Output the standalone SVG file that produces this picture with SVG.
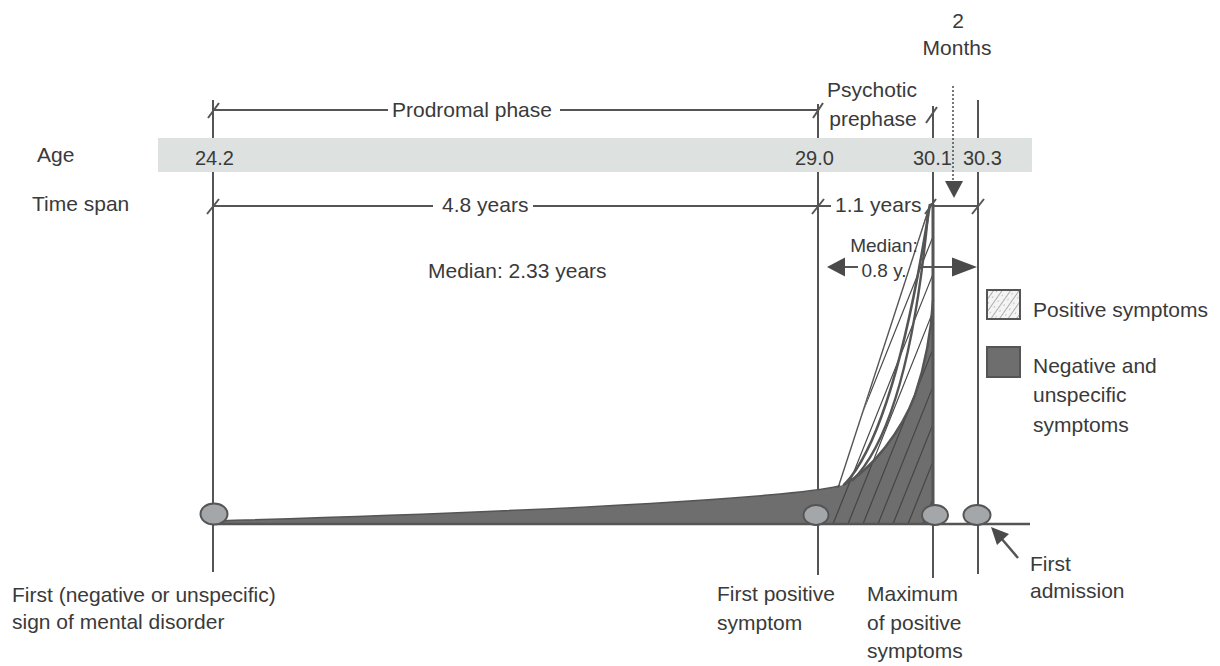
<svg xmlns="http://www.w3.org/2000/svg" width="1220" height="666" viewBox="0 0 1220 666">
<defs>
<style>
text{font-family:"Liberation Sans",Arial,sans-serif;font-size:21px;fill:#3a3a3a}
.num{font-size:20px}
.sm{font-size:19px}
.ln{stroke:#555;stroke-width:2;fill:none}
.tick{stroke:#555;stroke-width:2;fill:none}
.hat{stroke:#444;stroke-width:1.2;fill:none}
.ell{fill:#a4a7aa;stroke:#555;stroke-width:2}
</style>
<pattern id="legHatch" patternUnits="userSpaceOnUse" width="7" height="7" patternTransform="rotate(35)">
<rect width="7" height="7" fill="#f4f4f4"/>
<line x1="0" y1="0" x2="0" y2="7" stroke="#666" stroke-width="1"/>
<circle cx="3.5" cy="3" r="0.5" fill="#777"/>
</pattern>
<clipPath id="hatchClip">
<path d="M826,524 L840,486 L930,203 L934,203 L934,524 Z"/>
</clipPath>
</defs>
<rect width="1220" height="666" fill="#fff"/>

<g id="timeline-verticals">
<line class="ln" x1="213" y1="100" x2="213" y2="572"/>
<line class="ln" x1="818" y1="104" x2="818" y2="575"/>
<line class="ln" x1="933" y1="106" x2="933" y2="578"/>
<line class="ln" x1="978" y1="100" x2="978" y2="574"/>
</g>

<g id="age-band">
<rect x="158" y="138" width="874" height="34" fill="#dde1e0"/>
<text x="37" y="162">Age</text>
<text class="num" x="195" y="165">24.2</text>
<text class="num" x="795" y="165">29.0</text>
<text class="num" x="913" y="165">30.1</text>
<text class="num" x="963" y="165">30.3</text>
</g>

<g id="symptom-curves">
<path d="M214,524 L214,521 Q600,510 780,494 C812,491 830,489 843,485 C872,470 902,430 915,395 C925,365 931,335 933,300 L933,524 Z" fill="#6e6e6e" stroke="#555" stroke-width="1.5"/>
<path d="M840,486 L930,204 L933,204 L933,300 C931,335 925,365 915,395 C902,430 872,470 843,485 Z" fill="#fff"/>
<g clip-path="url(#hatchClip)">
<line class="hat" x1="773" y1="524" x2="903" y2="199"/>
<line class="hat" x1="788" y1="524" x2="918" y2="199"/>
<line class="hat" x1="803" y1="524" x2="933" y2="199"/>
<line class="hat" x1="818" y1="524" x2="948" y2="199"/>
<line class="hat" x1="833" y1="524" x2="963" y2="199"/>
<line class="hat" x1="848" y1="524" x2="978" y2="199"/>
<line class="hat" x1="863" y1="524" x2="993" y2="199"/>
<line class="hat" x1="878" y1="524" x2="1008" y2="199"/>
<line class="hat" x1="893" y1="524" x2="1023" y2="199"/>
<line class="hat" x1="908" y1="524" x2="1038" y2="199"/>
<line class="hat" x1="923" y1="524" x2="1053" y2="199"/>
</g>
<line x1="838" y1="488" x2="930" y2="205" stroke="#555" stroke-width="1.4"/>
<path d="M845,484 Q895,430 930,204" fill="none" stroke="#555" stroke-width="2.6"/>
<path d="M852,481 Q908,425 928,215" fill="none" stroke="#555" stroke-width="2.4"/>
<path d="M843,485 C872,470 902,430 915,395 C925,365 931,335 933,300" fill="none" stroke="#555" stroke-width="2.4"/>
<line x1="933" y1="204" x2="933" y2="524" stroke="#555" stroke-width="3"/>
</g>

<g id="connectors">
<line class="ln" x1="213" y1="110" x2="388" y2="110"/>
<line class="ln" x1="560" y1="110" x2="818" y2="110"/>
<line class="tick" x1="208" y1="118" x2="219" y2="103"/>
<line class="tick" x1="813" y1="118" x2="823" y2="103"/>
<line class="tick" x1="926" y1="123" x2="937" y2="107"/>
<line class="ln" x1="213" y1="206" x2="433" y2="206"/>
<line class="ln" x1="533" y1="206" x2="818" y2="206"/>
<line class="ln" x1="818" y1="206" x2="831" y2="206"/>
<line class="ln" x1="933" y1="206" x2="978" y2="206"/>
<line class="tick" x1="207" y1="214" x2="219" y2="199"/>
<line class="tick" x1="812" y1="214" x2="824" y2="199"/>
<line class="tick" x1="925" y1="214" x2="936" y2="199"/>
<line class="tick" x1="972" y1="214" x2="984" y2="199"/>
<line x1="953" y1="86" x2="953" y2="182" stroke="#555" stroke-width="1.6" stroke-dasharray="2,2"/>
<polygon points="945,181 963,181 954,198" fill="#4a4a4a"/>
<line class="ln" x1="845" y1="267" x2="858" y2="267"/>
<polygon points="827,267 845,257.5 845,276.5" fill="#4a4a4a"/>
<line class="ln" x1="923" y1="267" x2="952" y2="267"/>
<polygon points="977,267 952,257.5 952,276.5" fill="#4a4a4a"/>
<line x1="212" y1="524" x2="1030" y2="524" stroke="#555" stroke-width="2.5"/>
<line x1="1018" y1="558" x2="1001" y2="538" stroke="#555" stroke-width="2.5"/>
<polygon points="991,527 1009,534 997,545" fill="#4a4a4a"/>
</g>

<g id="node-first-sign">
<ellipse class="ell" cx="214" cy="514" rx="13.5" ry="10.5"/>
<text x="12" y="602">First (negative or unspecific)</text>
<text x="12" y="629">sign of mental disorder</text>
</g>
<g id="node-first-positive">
<ellipse class="ell" cx="816" cy="515" rx="12.5" ry="10"/>
<text x="717" y="601">First positive</text>
<text x="717" y="630">symptom</text>
</g>
<g id="node-maximum">
<ellipse class="ell" cx="935" cy="515" rx="13" ry="10"/>
<text x="867" y="601">Maximum</text>
<text x="867" y="630">of positive</text>
<text x="867" y="658">symptoms</text>
</g>
<g id="node-admission">
<ellipse class="ell" cx="977" cy="515" rx="13.5" ry="10"/>
<text x="1030" y="571">First</text>
<text x="1030" y="598">admission</text>
</g>

<g id="labels">
<text x="958" y="28" text-anchor="middle">2</text>
<text x="957" y="55" text-anchor="middle">Months</text>
<text x="872" y="97" text-anchor="middle">Psychotic</text>
<text x="873" y="126" text-anchor="middle">prephase</text>
<text x="392" y="117">Prodromal phase</text>
<text x="32" y="211">Time span</text>
<text x="442" y="212">4.8 years</text>
<text x="835" y="212">1.1 years</text>
<text x="428" y="278">Median: 2.33 years</text>
<text class="sm" x="884" y="252" text-anchor="middle">Median:</text>
<text class="sm" x="884" y="277" text-anchor="middle">0.8 y.</text>
</g>

<g id="legend">
<rect x="987" y="290" width="33" height="29" fill="url(#legHatch)" stroke="#555" stroke-width="2"/>
<text x="1033" y="317">Positive symptoms</text>
<rect x="987" y="347" width="33" height="30" fill="#6e6e6e" stroke="#555" stroke-width="2"/>
<text x="1033" y="373">Negative and</text>
<text x="1033" y="402">unspecific</text>
<text x="1033" y="432">symptoms</text>
</g>
</svg>
